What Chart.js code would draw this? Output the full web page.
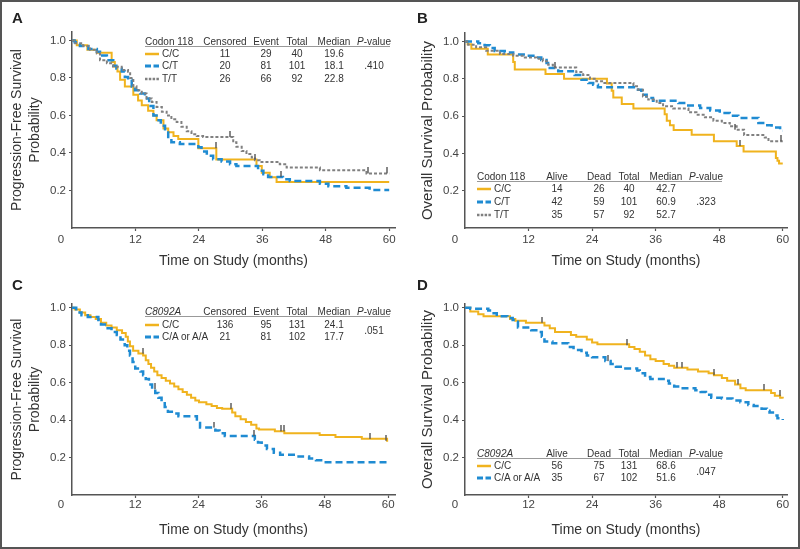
<!DOCTYPE html>
<html lang="en">

<head>
    <meta charset="UTF-8">
    <title>Codon 118 and C8092A survival curves</title>
    <script src="https://cdn.jsdelivr.net/npm/chart.js@4.4.1/dist/chart.umd.min.js"></script>
    <style>
        html, body { margin: 0; padding: 0; background: #fff; overflow: hidden; }
        #frame { position: relative; width: 800px; height: 549px; }
        #border { position: absolute; left: 0; top: 0; width: 800px; height: 549px; box-sizing: border-box;
                  border: 2px solid #555; pointer-events: none; z-index: 5; }
        canvas { position: absolute; }
        .lbl { position: absolute; font: bold 15px "Liberation Sans", Arial, sans-serif; line-height: 1; color: #222; }
        .leg { position: absolute; font: 10px "Liberation Sans", Arial, sans-serif; line-height: 1; color: #333; white-space: nowrap; }
        .rule { position: absolute; height: 0; border-top: 1px solid #999; }
        svg.sample { position: absolute; overflow: visible; }
    </style>
</head>

<body>
    <div id="frame">
        <canvas id="chartA" width="400" height="275" style="left:0;top:0"></canvas>
        <canvas id="chartB" width="400" height="275" style="left:400px;top:0"></canvas>
        <canvas id="chartC" width="400" height="275" style="left:0;top:275px"></canvas>
        <canvas id="chartD" width="400" height="275" style="left:400px;top:275px"></canvas>
        <div class="lbl" style="left:12px;top:10px">A</div>
        <div class="lbl" style="left:417px;top:10px">B</div>
        <div class="lbl" style="left:12px;top:277px">C</div>
        <div class="lbl" style="left:417px;top:277px">D</div>
        <div id="border"></div>
    </div>
    <script>
        // axes
        const monthTicks = [12, 24, 36, 48, 60];
        const probTicks = [0.2, 0.4, 0.6, 0.8, 1.0];

        // A - progression-free survival by codon 118
        const aMonthsCC = [0, 0.9, 2.9, 4.7, 7.5, 8.1, 8.6, 9.1, 10.0, 11.6, 12.5, 13.2, 14.4, 15.4, 16.0, 17.3, 18.2, 19.2, 20.1, 23.9, 27.3, 34.9, 35.9, 37.4, 38.7, 60];
        const aSurvCC = [1, .975, .95, .935, .885, .86, .835, .79, .755, .71, .68, .655, .625, .60, .575, .53, .51, .49, .475, .425, .365, .33, .295, .27, .245, .245];
        const aMonthsCT = [0, 0.5, 1.5, 3.1, 4.7, 5.3, 6.6, 7.8, 8.4, 9.4, 10.0, 10.6, 11.3, 11.9, 12.9, 13.8, 14.6, 15.4, 16.0, 16.8, 17.6, 18.2, 18.8, 20.4, 23.9, 24.5, 25.5, 26.7, 28.3, 29.9, 31.1, 35.2, 36.2, 37.1, 39.9, 41.2, 46.9, 48.5, 51.9, 56.3, 60];
        const aSurvCT = [1, .99, .97, .955, .94, .92, .895, .865, .85, .835, .805, .79, .755, .735, .717, .69, .65, .60, .575, .545, .52, .485, .457, .448, .43, .408, .385, .367, .355, .34, .331, .305, .287, .272, .26, .25, .236, .223, .214, .202, .202];
        const aMonthsTT = [0, 0.6, 2.1, 3.4, 4.7, 5.3, 6.6, 7.8, 9.4, 10.6, 11.0, 11.6, 12.2, 13.2, 14.1, 15.1, 16.0, 17.0, 17.9, 18.8, 19.8, 20.7, 21.7, 22.6, 23.6, 24.8, 30.5, 31.1, 32.1, 33.0, 34.0, 34.6, 35.5, 39.3, 40.6, 46.9, 55.7, 60];
        const aSurvTT = [1, .985, .97, .95, .93, .895, .878, .86, .842, .833, .80, .756, .735, .717, .69, .672, .645, .62, .60, .58, .565, .54, .516, .50, .49, .485, .457, .433, .41, .394, .376, .361, .352, .34, .322, .308, .291, .291];
        const aCensorMonths = [27.3, 29.8, 34.7, 39.5, 56.0, 59.6];
        const aCensorSurv = [.425, .485, .365, .272, .291, .291];
        const aTable = [['C/C', '11', '29', '40', '19.6'], ['C/T', '20', '81', '101', '18.1'], ['T/T', '26', '66', '92', '22.8']];

        // B - overall survival by codon 118
        const bMonthsCC = [0, 0.5, 1.2, 4.3, 9.1, 9.4, 15.2, 18.7, 26.8, 27.7, 28.0, 29.6, 31.8, 37.7, 38.1, 38.7, 39.4, 42.8, 47.0, 51.3, 52.6, 58.7, 59.0, 59.3, 60];
        const bSurvCC = [1, .985, .96, .93, .89, .85, .825, .80, .775, .735, .70, .665, .64, .61, .575, .55, .525, .50, .465, .44, .41, .375, .36, .345, .345];
        const bMonthsCT = [0, 2.5, 3.7, 4.7, 5.6, 7.5, 9.1, 11.6, 13.5, 14.4, 15.4, 16.0, 17.6, 20.7, 22.0, 23.3, 24.2, 25.1, 32.4, 33.3, 34.3, 35.5, 40.3, 41.8, 44.4, 46.3, 48.1, 50.0, 51.6, 55.4, 56.3, 57.9, 59.5, 60];
        const bSurvCT = [1, .99, .98, .965, .948, .94, .93, .923, .914, .90, .884, .857, .84, .82, .795, .777, .768, .754, .741, .714, .696, .682, .67, .657, .643, .63, .616, .602, .59, .563, .55, .539, .521, .521];
        const bMonthsTT = [0, 0.6, 2.1, 4.0, 6.6, 9.1, 11.3, 13.5, 14.7, 15.7, 16.6, 21.0, 22.3, 23.6, 24.8, 26.1, 31.8, 32.7, 33.6, 34.6, 36.2, 37.4, 39.3, 42.2, 43.7, 45.3, 46.9, 48.5, 50.0, 51.3, 52.7, 56.6, 57.3, 60];
        const bSurvTT = [1, .982, .968, .95, .932, .923, .914, .907, .893, .875, .86, .836, .82, .80, .786, .777, .759, .741, .705, .688, .67, .652, .64, .62, .607, .593, .575, .563, .545, .527, .498, .485, .465, .465];
        const bCensorMonths = [17.0, 51.0, 52.0, 59.7];
        const bCensorSurv = [.86, .527, .44, .465];
        const bTable = [['C/C', '14', '26', '40', '42.7'], ['C/T', '42', '59', '101', '60.9'], ['T/T', '35', '57', '92', '52.7']];

        // C - progression-free survival by C8092A
        const cMonthsCC = [0, 0.5, 1.5, 2.5, 3.5, 4.5, 5.5, 6.5, 7.5, 8.5, 9.5, 10.2, 10.6, 11.0, 11.6, 12.6, 13.5, 14.0, 14.5, 15.0, 15.6, 16.2, 17.0, 17.8, 18.6, 19.4, 20.2, 21.0, 21.8, 22.6, 23.4, 24.1, 25.5, 26.5, 27.5, 28.5, 30.4, 31.0, 32.0, 33.0, 34.0, 35.0, 35.5, 38.5, 40.3, 47.0, 50.0, 55.0, 59.8, 60];
        const cSurvCC = [1, .99, .975, .96, .95, .94, .92, .905, .895, .88, .865, .845, .82, .795, .77, .755, .745, .72, .70, .68, .66, .64, .625, .61, .595, .58, .565, .55, .535, .52, .505, .495, .485, .475, .465, .46, .44, .42, .405, .39, .375, .355, .35, .34, .33, .32, .31, .30, .29, .29];
        const cMonthsCA = [0, 0.8, 1.8, 3.0, 5.0, 5.5, 6.5, 7.5, 8.5, 9.2, 10.0, 10.5, 11.0, 11.5, 12.0, 13.0, 13.5, 14.0, 14.6, 15.2, 15.8, 16.4, 17.0, 17.6, 18.2, 19.5, 20.2, 23.7, 24.3, 27.2, 28.0, 29.0, 34.7, 35.3, 36.0, 37.0, 38.3, 39.5, 43.0, 45.0, 46.3, 47.6, 60];
        const cSurvCA = [1, .975, .96, .95, .935, .91, .89, .87, .855, .83, .80, .77, .745, .71, .675, .66, .64, .62, .59, .565, .545, .52, .50, .47, .445, .435, .42, .385, .36, .345, .33, .315, .295, .28, .265, .245, .225, .215, .205, .195, .185, .175, .175];
        const cCensorMonths = [13.4, 15.8, 27.0, 30.2, 34.6, 39.6, 40.2, 56.5, 59.5];
        const cCensorSurv = [.755, .565, .36, .46, .315, .34, .34, .30, .29];
        const cTable = [['C/C', '136', '95', '131', '24.1'], ['C/A or A/A', '21', '81', '102', '17.7']];

        // D - overall survival by C8092A
        const dMonthsCC = [0, 1, 2.5, 3.5, 8.5, 9.5, 11.5, 15, 16, 17, 20, 21, 23, 24, 25, 31, 32, 33, 34, 35, 36, 37.5, 38.5, 39.5, 42, 44, 46, 47, 48.5, 49.5, 51, 52, 53, 57.8, 58.5, 59.5, 60];
        const dSurvCC = [1, .98, .965, .955, .94, .93, .92, .905, .89, .87, .855, .845, .83, .815, .805, .79, .78, .765, .745, .725, .715, .70, .69, .68, .67, .66, .65, .64, .625, .61, .59, .57, .56, .545, .53, .52, .515];
        const dMonthsCA = [0, 1, 4.4, 5, 6, 8, 9, 9.5, 10, 12.5, 14, 14.5, 15, 16.5, 19.5, 20.5, 22, 23, 24, 26.5, 27.5, 28.5, 30, 32.5, 33, 34, 35, 37.5, 38.5, 39.5, 40.5, 43.5, 44.5, 45.5, 46.5, 48.5, 50.5, 52, 53.5, 54.5, 56, 57, 57.5, 58.5, 59, 60];
        const dSurvCA = [1, .995, .985, .97, .955, .945, .935, .925, .895, .88, .87, .845, .82, .81, .79, .775, .76, .745, .735, .715, .70, .685, .675, .665, .65, .63, .62, .61, .595, .58, .57, .56, .55, .535, .52, .515, .505, .495, .48, .475, .46, .45, .44, .425, .41, .40];
        const dCensorMonths = [14.5, 27.0, 30.5, 40.0, 41.0, 47.0, 51.5, 56.5, 59.5];
        const dCensorSurv = [.92, .715, .80, .68, .68, .64, .59, .56, .53];
        const dTable = [['C/C', '56', '75', '131', '68.6'], ['C/A or A/A', '35', '67', '102', '51.6']];

        const YELLOW = '#F0B31E', BLUE = '#1F8BD2', GRAY = '#808080';
        const styleCC = { color: YELLOW, width: 2, dash: [] };
        const styleCT = { color: BLUE, width: 2.5, dash: [7, 4] };
        const styleTT = { color: GRAY, width: 2, dash: [3, 2] };

        const FAMILY = '"Liberation Sans", Arial, sans-serif';
        const tickFont = { family: FAMILY, size: 11.5 };
        const xTitleFont = { family: FAMILY, size: 14 };

        // small vertical tick for censored observations, sitting on top of the curve
        const censorMark = document.createElement('canvas');
        censorMark.width = 2;
        censorMark.height = 12;
        (function () {
            const g = censorMark.getContext('2d');
            g.fillStyle = '#555';
            g.fillRect(0.3, 0, 1.4, 6);
        })();

        function km(months, surv, st) {
            return {
                data: months.map(function (m, i) { return { x: m, y: surv[i] }; }),
                borderColor: st.color,
                borderWidth: st.width,
                borderDash: st.dash,
                stepped: 'before',
                pointRadius: 0,
                fill: false
            };
        }

        function censors(months, surv) {
            return {
                data: months.map(function (m, i) { return { x: m, y: surv[i] }; }),
                showLine: false,
                pointStyle: censorMark,
                pointRadius: 3,
                borderWidth: 0
            };
        }

        // the shared "0" at the origin sits left of the corner
        const originZero = {
            id: 'originZero',
            afterDraw(chart, args, opts) {
                const item = chart.scales.x.getLabelItems()[0];
                const ctx = chart.ctx;
                ctx.save();
                ctx.font = item.font.string;
                ctx.fillStyle = '#444';
                ctx.textAlign = 'center';
                ctx.textBaseline = item.options.textBaseline;
                ctx.fillText('0', chart.chartArea.left - opts.dx, item.options.translation[1] + (item.textOffset || 0));
                ctx.restore();
            }
        };

        function drawPanel(id, datasets, yTitle, p) {
            new Chart(document.getElementById(id), {
                type: 'line',
                data: { datasets: datasets },
                options: {
                    responsive: false,
                    animation: false,
                    devicePixelRatio: 1,
                    layout: { autoPadding: false, padding: { top: p.top, right: p.right, left: 0, bottom: 0 } },
                    plugins: { legend: { display: false }, tooltip: { enabled: false }, originZero: { dx: p.zeroDx } },
                    scales: {
                        x: {
                            type: 'linear', min: 0, max: p.xMax,
                            afterBuildTicks: function (s) { s.ticks = monthTicks.map(function (v) { return { value: v }; }); },
                            afterFit: function (s) { s.height = p.xHeight; },
                            ticks: { font: tickFont, color: '#444', padding: p.xPad, maxRotation: 0, autoSkip: false, callback: function (v) { return String(v); } },
                            grid: { drawOnChartArea: false, tickLength: 3, tickColor: '#555', tickWidth: 1.2 },
                            border: { color: '#555', width: 1.5 },
                            title: { display: true, text: 'Time on Study (months)', font: xTitleFont, color: '#333', padding: { top: 0, bottom: p.xTitlePad } }
                        },
                        y: {
                            type: 'linear', min: 0, max: p.yMax,
                            afterBuildTicks: function (s) { s.ticks = probTicks.map(function (v) { return { value: v }; }); },
                            afterFit: function (s) { s.width = p.left; },
                            ticks: { font: tickFont, color: '#444', padding: 3, callback: function (v) { return v.toFixed(1); } },
                            grid: { drawOnChartArea: false, tickLength: 3, tickColor: '#555', tickWidth: 1.2 },
                            border: { color: '#555', width: 1.5 },
                            title: { display: true, text: yTitle, font: { family: FAMILY, size: p.yTitleSize, lineHeight: '18px' }, color: '#333', padding: { top: p.yTitlePad, bottom: 0 } }
                        }
                    }
                },
                plugins: [originZero]
            });
        }

        const pfsTitle = ['Progression-Free Survival', 'Probability'];
        const osTitle = 'Overall Survival Probability';

        drawPanel('chartA', [
            censors(aCensorMonths, aCensorSurv),
            km(aMonthsTT, aSurvTT, styleTT),
            km(aMonthsCT, aSurvCT, styleCT),
            km(aMonthsCC, aSurvCC, styleCC)
        ], pfsTitle, { left: 72, top: 32, right: 5, xHeight: 47, xMax: 61.1, yMax: 1.045, xPad: 2, xTitlePad: 5, yTitleSize: 14, yTitlePad: 8, zeroDx: 11 });

        drawPanel('chartB', [
            censors(bCensorMonths, bCensorSurv),
            km(bMonthsTT, bSurvTT, styleTT),
            km(bMonthsCT, bSurvCT, styleCT),
            km(bMonthsCC, bSurvCC, styleCC)
        ], osTitle, { left: 65, top: 33, right: 13, xHeight: 47, xMax: 60.8, yMax: 1.045, xPad: 2, xTitlePad: 5, yTitleSize: 15, yTitlePad: 19, zeroDx: 10 });

        drawPanel('chartC', [
            censors(cCensorMonths, cCensorSurv),
            km(cMonthsCA, cSurvCA, styleCT),
            km(cMonthsCC, cSurvCC, styleCC)
        ], pfsTitle, { left: 72, top: 29, right: 5, xHeight: 55, xMax: 61.3, yMax: 1.02, xPad: 0, xTitlePad: 11, yTitleSize: 14, yTitlePad: 8, zeroDx: 11 });

        drawPanel('chartD', [
            censors(dCensorMonths, dCensorSurv),
            km(dMonthsCA, dSurvCA, styleCT),
            km(dMonthsCC, dSurvCC, styleCC)
        ], osTitle, { left: 65, top: 29, right: 13, xHeight: 55, xMax: 60.8, yMax: 1.02, xPad: 0, xTitlePad: 11, yTitleSize: 15, yTitlePad: 19, zeroDx: 10 });

        // legend tables
        const frame = document.getElementById('frame');

        function put(html, x, y, centered) {
            const d = document.createElement('div');
            d.className = 'leg';
            d.style.left = x + 'px';
            d.style.top = y + 'px';
            d.style.transform = centered ? 'translate(-50%, -50%)' : 'translate(0, -50%)';
            d.innerHTML = html;
            frame.appendChild(d);
        }

        function sample(x, y, st) {
            const ns = 'http://www.w3.org/2000/svg';
            const svg = document.createElementNS(ns, 'svg');
            svg.setAttribute('class', 'sample');
            svg.setAttribute('width', '14');
            svg.setAttribute('height', '4');
            svg.style.left = x + 'px';
            svg.style.top = (y - 2) + 'px';
            const ln = document.createElementNS(ns, 'line');
            ln.setAttribute('x1', '0'); ln.setAttribute('x2', '14');
            ln.setAttribute('y1', '2'); ln.setAttribute('y2', '2');
            ln.setAttribute('stroke', st.color);
            ln.setAttribute('stroke-width', st.width + 0.5);
            if (st.dash.length) ln.setAttribute('stroke-dasharray', st.dash === styleCT.dash ? '6 2.5' : '2.5 1.3');
            svg.appendChild(ln);
            frame.appendChild(svg);
        }

        function legend(L) {
            L.header.forEach(function (h, i) {
                if (i === 0) put(h, L.left, L.headerY, false);
                else put(h, L.cols[i - 1], L.headerY, true);
            });
            const rule = document.createElement('div');
            rule.className = 'rule';
            rule.style.left = L.left + 'px';
            rule.style.top = (L.headerY + 4) + 'px';
            rule.style.width = L.ruleWidth + 'px';
            frame.appendChild(rule);
            L.rows.forEach(function (r, i) {
                const y = L.rowY[i];
                sample(L.left, y, L.styles[i]);
                put(r[0], L.left + 17, y, false);
                for (let k = 1; k < r.length; k++) put(r[k], L.cols[k - 1], y, true);
            });
            put(L.p, L.cols[4], L.pY, true);
        }

        const pfsHeader = ['Censored', 'Event', 'Total', 'Median', '<i>P</i>-value'];
        const osHeader = ['Alive', 'Dead', 'Total', 'Median', '<i>P</i>-value'];

        legend({ left: 145, cols: [225, 266, 297, 334, 374], header: ['Codon 118'].concat(pfsHeader), headerY: 42, ruleWidth: 245,
                 rows: aTable, rowY: [54, 66, 79], styles: [styleCC, styleCT, styleTT], p: '.410', pY: 66 });
        legend({ left: 477, cols: [557, 599, 629, 666, 706], header: ['Codon 118'].concat(osHeader), headerY: 177, ruleWidth: 245,
                 rows: bTable, rowY: [189, 202, 215], styles: [styleCC, styleCT, styleTT], p: '.323', pY: 202 });
        legend({ left: 145, cols: [225, 266, 297, 334, 374], header: ['<i>C8092A</i>'].concat(pfsHeader), headerY: 312, ruleWidth: 245,
                 rows: cTable, rowY: [325, 337], styles: [styleCC, styleCT], p: '.051', pY: 331 });
        legend({ left: 477, cols: [557, 599, 629, 666, 706], header: ['<i>C8092A</i>'].concat(osHeader), headerY: 454, ruleWidth: 245,
                 rows: dTable, rowY: [466, 478], styles: [styleCC, styleCT], p: '.047', pY: 472 });
    </script>
</body>

</html>
